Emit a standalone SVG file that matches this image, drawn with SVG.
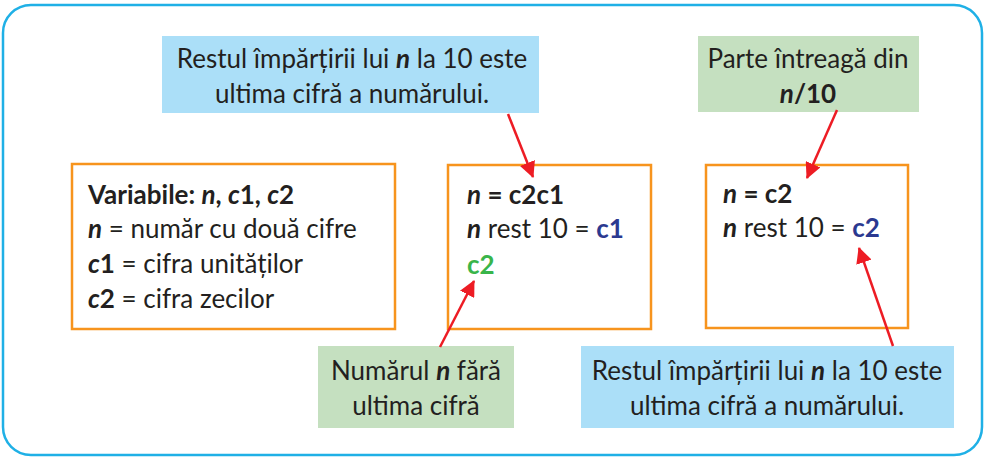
<svg xmlns="http://www.w3.org/2000/svg" width="985" height="457" viewBox="0 0 985 457">
<defs>
<style>
text{font-family:Lato,"Liberation Sans",sans-serif;font-size:26px;fill:#231f20}
.c{text-anchor:middle}
.b{font-weight:bold}
.bi{font-weight:bold;font-style:italic}
.blue{fill:#2b3990;font-weight:bold}
.green{fill:#39b54a;font-weight:bold}
.box{fill:#fff;stroke:#f7941d;stroke-width:2.5}
.nb{fill:#abdff8}
.ng{fill:#c5e0c0}
.arr{stroke:#ed1c24;stroke-width:2.5;fill:none;marker-end:url(#ah)}
</style>
<marker id="ah" markerUnits="userSpaceOnUse" markerWidth="16" markerHeight="16" viewBox="0 0 16 16" refX="15" refY="8" orient="auto">
<path d="M0,0 L16,8 L0,16 Z" fill="#ed1c24"/>
</marker>
</defs>
<rect x="3" y="5" width="979" height="450" rx="28" ry="28" fill="#fff" stroke="#1fb0e6" stroke-width="2.5"/>

<g id="vars">
<rect class="box" x="72" y="164" width="323" height="165"/>
<text x="88" y="204"><tspan class="b">Variabile: </tspan><tspan class="bi">n</tspan><tspan class="b">, </tspan><tspan class="bi">c</tspan><tspan class="b">1, </tspan><tspan class="bi">c</tspan><tspan class="b">2</tspan></text>
<text x="88" y="238"><tspan class="bi">n</tspan> = număr cu două cifre</text>
<text x="88" y="273"><tspan class="bi">c</tspan><tspan class="b">1</tspan> = cifra unităților</text>
<text x="88" y="308"><tspan class="bi">c</tspan><tspan class="b">2</tspan> = cifra zecilor</text>
</g>

<g id="mid">
<rect class="box" x="448" y="165" width="203" height="164"/>
<text x="467" y="204"><tspan class="bi">n</tspan><tspan class="b"> = c2c1</tspan></text>
<text x="467" y="238"><tspan class="bi">n</tspan> rest 10 = <tspan class="blue">c1</tspan></text>
<text x="467" y="274"><tspan class="green">c2</tspan></text>
</g>

<g id="right">
<rect class="box" x="706" y="165" width="202" height="163"/>
<text x="723" y="203"><tspan class="bi">n</tspan><tspan class="b"> = c2</tspan></text>
<text x="723" y="237"><tspan class="bi">n</tspan> rest 10 = <tspan class="blue">c2</tspan></text>
</g>

<g id="note-top-blue">
<rect class="nb" x="162" y="36" width="377" height="77"/>
<text class="c" x="352" y="68">Restul împărțirii lui <tspan class="bi">n</tspan> la 10 este</text>
<text class="c" x="352" y="103">ultima cifră a numărului.</text>
</g>

<g id="note-top-green">
<rect class="ng" x="698" y="36" width="221" height="76"/>
<text class="c" x="808" y="68">Parte întreagă din</text>
<text class="c" x="808" y="103"><tspan class="bi">n</tspan><tspan class="b">/10</tspan></text>
</g>

<g id="note-bottom-green">
<rect class="ng" x="318" y="346" width="196" height="82"/>
<text class="c" x="416" y="380">Numărul <tspan class="bi">n</tspan> fără</text>
<text class="c" x="416" y="415">ultima cifră</text>
</g>

<g id="note-bottom-blue">
<rect class="nb" x="581" y="346" width="373" height="82"/>
<text class="c" x="767" y="380">Restul împărțirii lui <tspan class="bi">n</tspan> la 10 este</text>
<text class="c" x="767" y="415">ultima cifră a numărului.</text>
</g>

<g id="connectors">
<line class="arr" x1="508" y1="114" x2="533" y2="177"/>
<line class="arr" x1="440" y1="347" x2="474" y2="281"/>
<line class="arr" x1="837" y1="110" x2="807" y2="178"/>
<line class="arr" x1="893" y1="346" x2="859" y2="248"/>
</g>
</svg>
